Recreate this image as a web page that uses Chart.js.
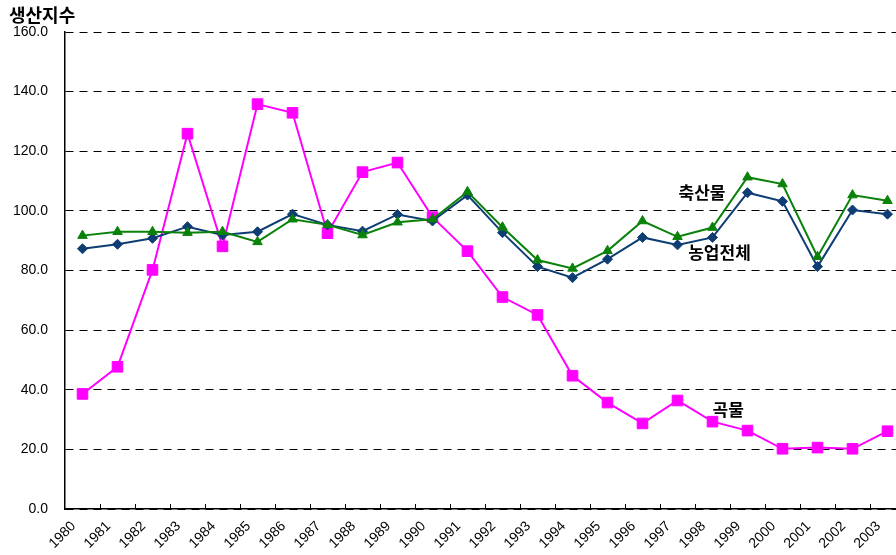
<!DOCTYPE html>
<html>
<head>
<meta charset="utf-8">
<script src="https://cdn.jsdelivr.net/npm/chart.js@4/dist/chart.umd.min.js"></script>
<style>
  html, body { margin: 0; padding: 0; background: #fff; overflow: hidden; }
  #clip { width: 896px; height: 555px; overflow: hidden; }
  /* the plot area runs a little past the right edge, as in the source image */
  #wrap { width: 905px; height: 555px; position: relative; }
</style>
</head>
<body>
<div id="clip"><div id="wrap"><canvas id="chart"></canvas></div></div>
<script>
// Production index, 1980–2003
const YEARS = ['1980','1981','1982','1983','1984','1985','1986','1987','1988','1989','1990','1991',
               '1992','1993','1994','1995','1996','1997','1998','1999','2000','2001','2002','2003'];

// 축산물 (livestock)
const LIVESTOCK = [91.7, 93.0, 93.0, 92.7, 93.0, 89.6, 97.2, 95.3, 91.9, 96.2, 97.2, 106.4,
                   94.5, 83.5, 80.7, 86.6, 96.6, 91.3, 94.4, 111.3, 109.0, 84.6, 105.3, 103.4];
// 농업전체 (all agriculture)
const AGRI_TOTAL = [87.3, 88.8, 90.8, 94.7, 91.9, 93.0, 98.9, 95.3, 93.2, 98.8, 96.6, 105.3,
                    92.7, 81.3, 77.6, 83.8, 91.1, 88.6, 91.1, 106.1, 103.2, 81.3, 100.3, 98.9];
// 곡물 (grains)
const GRAINS = [38.6, 47.7, 80.2, 125.9, 88.1, 135.8, 132.9, 92.5, 113.0, 116.2, 97.9, 86.5,
                71.1, 65.1, 44.7, 35.7, 28.7, 36.4, 29.3, 26.3, 20.2, 20.6, 20.2, 26.1];

const Y_TICKS = [0, 20, 40, 60, 80, 100, 120, 140, 160];

// in-chart series labels, placed in data space (category index, value)
const SERIES_LABELS = [
  { text: '축산물', at: 17.7, value: 106.0 },
  { text: '농업전체', at: 18.2, value: 86.0 },
  { text: '곡물', at: 18.45, value: 33.5 },
];

const FONT = '"Liberation Sans", Arial, sans-serif';

const decor = {
  id: 'decor',
  afterDraw(chart) {
    const { ctx, scales: { x, y }, chartArea } = chart;
    ctx.save();
    // inward tick marks on the category axis (at category boundaries)
    const step = x.getPixelForValue(1) - x.getPixelForValue(0);
    ctx.strokeStyle = '#000';
    ctx.lineWidth = 1;
    ctx.beginPath();
    for (let i = 1; i < YEARS.length; i++) {
      const px = Math.round(x.getPixelForValue(i) - step / 2) + 0.5;
      ctx.moveTo(px, chartArea.bottom);
      ctx.lineTo(px, chartArea.bottom - 5);
    }
    ctx.stroke();

    // axis title
    ctx.fillStyle = '#000';
    ctx.font = 'bold 18px "Noto Sans CJK KR", sans-serif';
    ctx.textAlign = 'left';
    ctx.textBaseline = 'middle';
    ctx.fillText('생산지수', 9, 15);

    // series labels
    ctx.font = 'bold 17px "Noto Sans CJK KR", sans-serif';
    ctx.textAlign = 'center';
    SERIES_LABELS.forEach(l => {
      ctx.fillText(l.text, x.getPixelForValue(l.at), y.getPixelForValue(l.value));
    });
    ctx.restore();
  }
};

const pt = (color, style, r) => ({
  borderColor: color,
  backgroundColor: color,
  pointStyle: style,
  pointRadius: r,
  pointHoverRadius: r,
  pointBorderWidth: 1,
  borderWidth: 2,
  tension: 0,
});

new Chart(document.getElementById('chart'), {
  type: 'line',
  data: {
    labels: YEARS,
    datasets: [
      { label: '축산물', data: LIVESTOCK, ...pt('#0a820a', 'triangle', 5.5) },
      { label: '농업전체', data: AGRI_TOTAL, ...pt('#0d3d73', 'rectRot', 5) },
      { label: '곡물', data: GRAINS, ...pt('#ff00ff', 'rect', 7.5) },
    ],
  },
  options: {
    responsive: true, maintainAspectRatio: false, animation: false,
    layout: { autoPadding: false, padding: { top: 32, left: 0, right: 0, bottom: 0 } },
    plugins: { legend: { display: false }, tooltip: { enabled: false } },
    scales: {
      x: {
        offset: true,
        grid: { display: false, drawTicks: false },
        border: { color: '#000', width: 1.5 },
        ticks: {
          autoSkip: false, minRotation: 45, maxRotation: 45,
          labelOffset: -9, padding: 9,
          color: '#000', font: { family: FONT, size: 14 },
        },
        afterFit: s => { s.height = 46; s.paddingLeft = 0; s.paddingRight = 0; },
      },
      y: {
        min: 0, max: 160,
        afterBuildTicks: s => { s.ticks = Y_TICKS.map(v => ({ value: v })); },
        grid: { color: '#000', lineWidth: 1, drawTicks: false },
        border: { color: '#000', width: 1.5, dash: [8, 6] },
        ticks: {
          padding: 17, color: '#000',
          font: { family: FONT, size: 14 },
          callback: v => v.toFixed(1),
        },
        afterFit: s => { s.width = 65; },
      },
    },
  },
  plugins: [decor],
});
</script>
</body>
</html>
